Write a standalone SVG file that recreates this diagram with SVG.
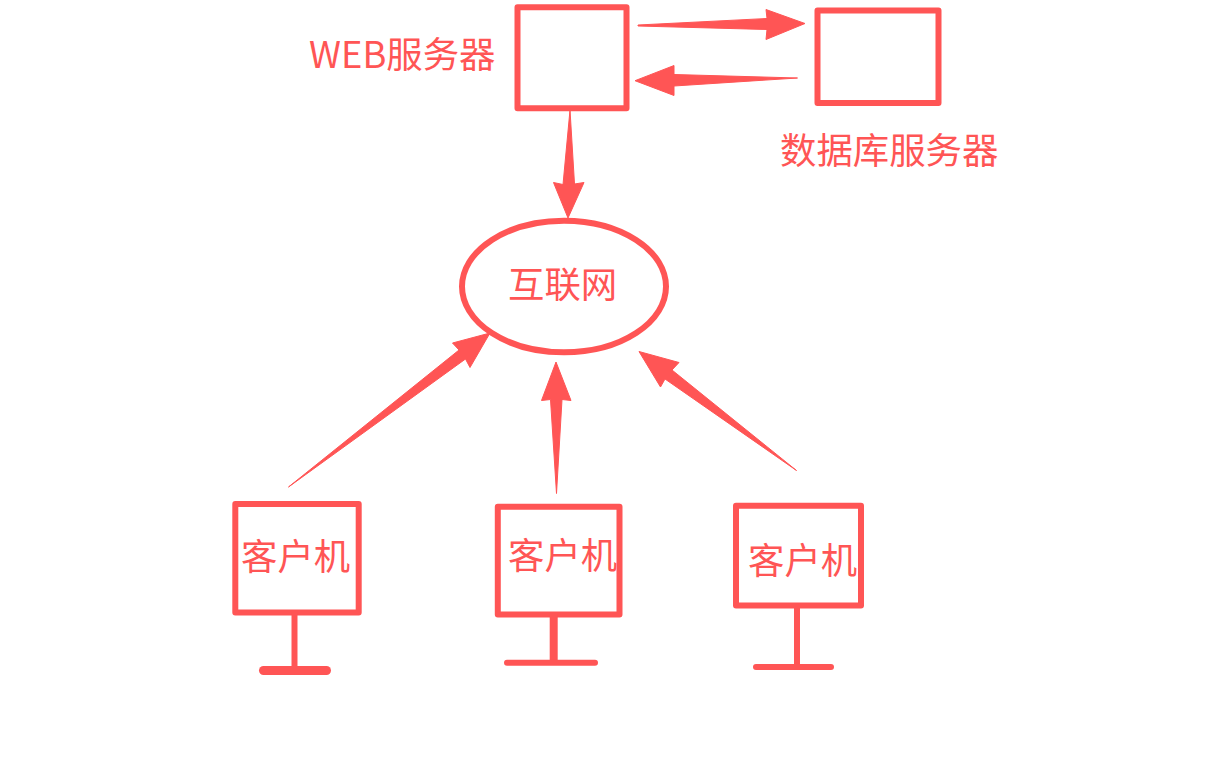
<svg xmlns="http://www.w3.org/2000/svg" width="1221" height="780" viewBox="0 0 1221 780">
<style>
.box{fill:none;stroke:#ff5555;stroke-linejoin:round}
.ln{stroke:#ff5555;stroke-linecap:round;fill:none}
.ar{fill:#ff5555;stroke:#ff5555;stroke-width:1;stroke-linejoin:round}
text{font-family:"Noto Sans CJK SC","Noto Sans",sans-serif;font-size:36.4px;fill:#ff5555}
</style>
<rect width="1221" height="780" fill="#ffffff"/>
<g id="connectors">
<polygon class="ar" points="638,25 767,18.5 766,9.5 805,23.5 766,39.5 767,29.5 638,26"/>
<polygon class="ar" points="797.5,78 674,74.5 674,65.5 635,80.7 674,95.5 674,86"/>
<polygon class="ar" points="570,110 574.5,184 584,182.5 568,218 553.5,182.5 563,184.5"/>
<polygon class="ar" points="288.5,487 459,350 452.5,343 490,333 470,367.5 465.5,359"/>
<polygon class="ar" points="556.5,493.5 562,399.5 571,400.5 556,362 541.5,400.5 550.5,399.5"/>
<polygon class="ar" points="796.5,470.5 672,370 679,362.5 639,351.5 660.5,387 665,379"/>
</g>
<g id="web-server">
<rect class="box" x="517.5" y="7.2" width="109" height="101" stroke-width="6"/>
<text x="309" y="68">WEB服务器</text>
</g>
<g id="db-server">
<rect class="box" x="817.5" y="10.5" width="121" height="92.5" stroke-width="6"/>
<text x="780" y="164">数据库服务器</text>
</g>
<g id="internet">
<ellipse class="box" cx="564" cy="286.5" rx="102" ry="65.8" stroke-width="6"/>
<text x="508" y="298">互联网</text>
</g>
<g id="client-1">
<rect class="box" x="235.3" y="504" width="123.4" height="108.5" stroke-width="6"/>
<line class="ln" x1="294.5" y1="612" x2="294.5" y2="670" stroke-width="6" style="stroke-linecap:butt"/>
<line class="ln" x1="263.5" y1="670.5" x2="326.5" y2="670.5" stroke-width="9"/>
<text x="241" y="570">客户机</text>
</g>
<g id="client-2">
<rect class="box" x="497.8" y="506.8" width="121.7" height="107.6" stroke-width="6"/>
<line class="ln" x1="553.7" y1="614" x2="553.7" y2="662" stroke-width="8" style="stroke-linecap:butt"/>
<line class="ln" x1="507" y1="662.7" x2="595" y2="662.7" stroke-width="6"/>
<text x="508" y="569">客户机</text>
</g>
<g id="client-3">
<rect class="box" x="736" y="505.8" width="125" height="99.8" stroke-width="6"/>
<line class="ln" x1="797" y1="605" x2="797" y2="667" stroke-width="6" style="stroke-linecap:butt"/>
<line class="ln" x1="756" y1="667" x2="831" y2="667" stroke-width="6"/>
<text x="748" y="574">客户机</text>
</g>
</svg>
